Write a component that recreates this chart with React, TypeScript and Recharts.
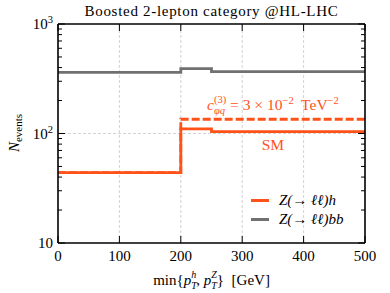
import React from 'react';
import { ComposedChart, Line, XAxis, YAxis, ReferenceLine, ReferenceDot, Legend, Label } from 'recharts';

// ---- data ----
const binEdges = [0, 200, 250, 500];
const zhSM = [44, 110, 104, 104];
const zhBSM = [44, 135, 135, 135];
const zbb = [362, 392, 368, 368];

const xTicks = [0, 100, 200, 300, 400, 500];
const yMajor = [10, 100, 1000];
const yMinor = [20, 30, 40, 50, 60, 70, 80, 90, 200, 300, 400, 500, 600, 700, 800, 900];
const xGrid = [100, 200, 300, 400];
const yGrid = [100];

const title = 'Boosted 2-lepton category @HL-LHC';
const seriesNames = ['Z(\u2192 \u2113\u2113)h', 'Z(\u2192 \u2113\u2113)bb'];

const ORANGE = '#ff5219';
const GRAY = '#707070';
const FONT = '"Liberation Serif", "DejaVu Serif", serif';

const W = 390;
const H = 293;
const M = { top: 23, right: 24, bottom: 0, left: 57 };

const data = binEdges.map((x, i) => ({ x, sm: zhSM[i], bsm: zhBSM[i], bb: zbb[i] }));
const yTicks = [...yMajor, ...yMinor].sort((a, b) => a - b);

const supExp: Record<number, string> = { 10: '', 100: '2', 1000: '3' };

const LeftTick = (props: any) => {
  const { x, y, payload } = props;
  const v = payload.value;
  const major = yMajor.includes(v);
  return (
    <g>
      <line x1={x} x2={x + (major ? 7 : 4)} y1={y} y2={y} stroke="#000" strokeWidth={1} />
      {major && (
        <text x={x - 5} y={y + 5} textAnchor="end" fontFamily={FONT} fontSize={15} fill="#000">
          <tspan>10</tspan>
          {supExp[v] ? <tspan fontSize={10.5} dy={-6}>{supExp[v]}</tspan> : null}
        </text>
      )}
    </g>
  );
};

const RightTick = (props: any) => {
  const { x, y, payload } = props;
  const major = yMajor.includes(payload.value);
  return <line x1={x} x2={x - (major ? 7 : 4)} y1={y} y2={y} stroke="#000" strokeWidth={1} />;
};

const BottomTick = (props: any) => {
  const { x, y, payload } = props;
  return (
    <g>
      <line x1={x} x2={x} y1={y} y2={y - 7} stroke="#000" strokeWidth={1} />
      <text x={x} y={y + 18} textAnchor="middle" fontFamily={FONT} fontSize={15} fill="#000">
        {payload.value}
      </text>
    </g>
  );
};

const TopTick = (props: any) => {
  const { x, y } = props;
  return <line x1={x} x2={x} y1={y} y2={y + 7} stroke="#000" strokeWidth={1} />;
};

const plotCenterX = M.left + 1 + (W - M.left - M.right - 2) / 2;

const TitleLabel = () => (
  <text x={plotCenterX} y={16} textAnchor="middle" fontFamily={FONT} fontSize={15} letterSpacing={0.7} fill="#000">
    {title}
  </text>
);

const XLabel = () => (
  <text x={plotCenterX} y={285} textAnchor="middle" fontFamily={FONT} fontSize={15} fill="#000" style={{ whiteSpace: 'pre' }}>
    <tspan>min{'{'}</tspan>
    <tspan fontStyle="italic">p</tspan>
    <tspan fontStyle="italic" fontSize={10} dy={4}>T</tspan>
    <tspan fontStyle="italic" fontSize={10} dx={-5.5} dy={-11}>h</tspan>
    <tspan dy={7}>, </tspan>
    <tspan fontStyle="italic">p</tspan>
    <tspan fontStyle="italic" fontSize={10} dy={4}>T</tspan>
    <tspan fontStyle="italic" fontSize={10} dx={-5.5} dy={-11}>Z</tspan>
    <tspan dy={7}>{'}  [GeV]'}</tspan>
  </text>
);

const YLabel = () => {
  const cx = 19;
  const cy = 133;
  return (
    <text x={cx} y={cy} transform={`rotate(-90, ${cx}, ${cy})`} textAnchor="middle" fontFamily={FONT} fontSize={15} fill="#000">
      <tspan fontStyle="italic">N</tspan>
      <tspan fontSize={11} dy={3}>events</tspan>
    </text>
  );
};

const CoeffLabel = (props: any) => {
  const { viewBox } = props;
  return (
    <text x={viewBox.x} y={viewBox.y} textAnchor="middle" fontFamily={FONT} fontSize={15.5} fill={ORANGE} style={{ whiteSpace: 'pre' }}>
      <tspan fontStyle="italic">c</tspan>
      <tspan fontStyle="italic" fontSize={10.5} dy={4}>{'\u03c6q'}</tspan>
      <tspan fontSize={10.5} dx={-11} dy={-11}>(3)</tspan>
      <tspan dy={7}>{' = 3 \u00d7 10'}</tspan>
      <tspan fontSize={10.5} dy={-6}>{'\u22122'}</tspan>
      <tspan dy={6}>{'  TeV'}</tspan>
      <tspan fontSize={10.5} dy={-6}>{'\u22122'}</tspan>
    </text>
  );
};

const SMLabel = (props: any) => {
  const { viewBox } = props;
  return (
    <text x={viewBox.x} y={viewBox.y} textAnchor="middle" fontFamily={FONT} fontSize={15.5} fill={ORANGE}>
      SM
    </text>
  );
};

const LegendContent = () => (
  <div style={{ fontFamily: FONT, fontSize: 15, lineHeight: '19px' }}>
    {[ORANGE, GRAY].map((c, i) => (
      <div key={i} style={{ display: 'flex', alignItems: 'center' }}>
        <span style={{ display: 'inline-block', width: 18, height: 3, background: c, marginRight: 10 }} />
        <span style={{ fontStyle: 'italic' }}>{seriesNames[i]}</span>
      </div>
    ))}
  </div>
);

export default function App() {
  return (
    <div style={{ position: 'absolute', left: 0, top: 0, width: W, height: H, background: '#fff' }}>
      <ComposedChart width={W} height={H} data={data} margin={M}>
        <XAxis xAxisId="bottom" dataKey="x" type="number" domain={[0, 500]} ticks={xTicks} height={50}
          tickLine={false} tickSize={0} tickMargin={0} axisLine={{ stroke: '#000', strokeWidth: 1.6 }} tick={<BottomTick />} interval={0}>
          <Label content={<XLabel />} />
        </XAxis>
        <XAxis xAxisId="top" orientation="top" dataKey="x" type="number" domain={[0, 500]} ticks={xTicks} height={1}
          tickLine={false} tickSize={0} tickMargin={0} axisLine={{ stroke: '#000', strokeWidth: 1.6 }} tick={<TopTick />} interval={0}>
          <Label content={<TitleLabel />} />
        </XAxis>
        <YAxis yAxisId="left" type="number" scale="log" domain={[10, 1000]} allowDataOverflow ticks={yTicks} width={1}
          tickLine={false} tickSize={0} tickMargin={0} axisLine={{ stroke: '#000', strokeWidth: 1.6 }} tick={<LeftTick />} interval={0}>
          <Label content={<YLabel />} />
        </YAxis>
        <YAxis yAxisId="right" orientation="right" type="number" scale="log" domain={[10, 1000]} allowDataOverflow ticks={yTicks} width={1}
          tickLine={false} tickSize={0} tickMargin={0} axisLine={{ stroke: '#000', strokeWidth: 1.6 }} tick={<RightTick />} interval={0} />

        {xGrid.map((g) => (
          <ReferenceLine key={'gx' + g} xAxisId="bottom" yAxisId="left" x={g} stroke="#c8c8c8" strokeWidth={0.8} strokeDasharray="3 2" />
        ))}
        {yGrid.map((g) => (
          <ReferenceLine key={'gy' + g} xAxisId="bottom" yAxisId="left" y={g} stroke="#c8c8c8" strokeWidth={0.8} strokeDasharray="3 2" />
        ))}

        <Line xAxisId="bottom" yAxisId="left" type="stepAfter" dataKey="bb" stroke={GRAY} strokeWidth={2.8} dot={false} isAnimationActive={false} />
        <Line xAxisId="bottom" yAxisId="left" type="stepAfter" dataKey="bsm" stroke={ORANGE} strokeWidth={2.8} strokeDasharray="8 3" dot={false} isAnimationActive={false} />
        <Line xAxisId="bottom" yAxisId="left" type="stepAfter" dataKey="sm" stroke={ORANGE} strokeWidth={2.8} dot={false} isAnimationActive={false} />

        <ReferenceDot xAxisId="bottom" yAxisId="left" x={350} y={164} r={0} fill="none" stroke="none" label={<CoeffLabel />} />
        <ReferenceDot xAxisId="bottom" yAxisId="left" x={350} y={70} r={0} fill="none" stroke="none" label={<SMLabel />} />

        <Legend layout="horizontal" verticalAlign="middle" align="center" content={<LegendContent />}
          wrapperStyle={{ position: 'absolute', left: 251, top: 191, width: 120, bottom: 'auto', right: 'auto' }} />
      </ComposedChart>
    </div>
  );
}
